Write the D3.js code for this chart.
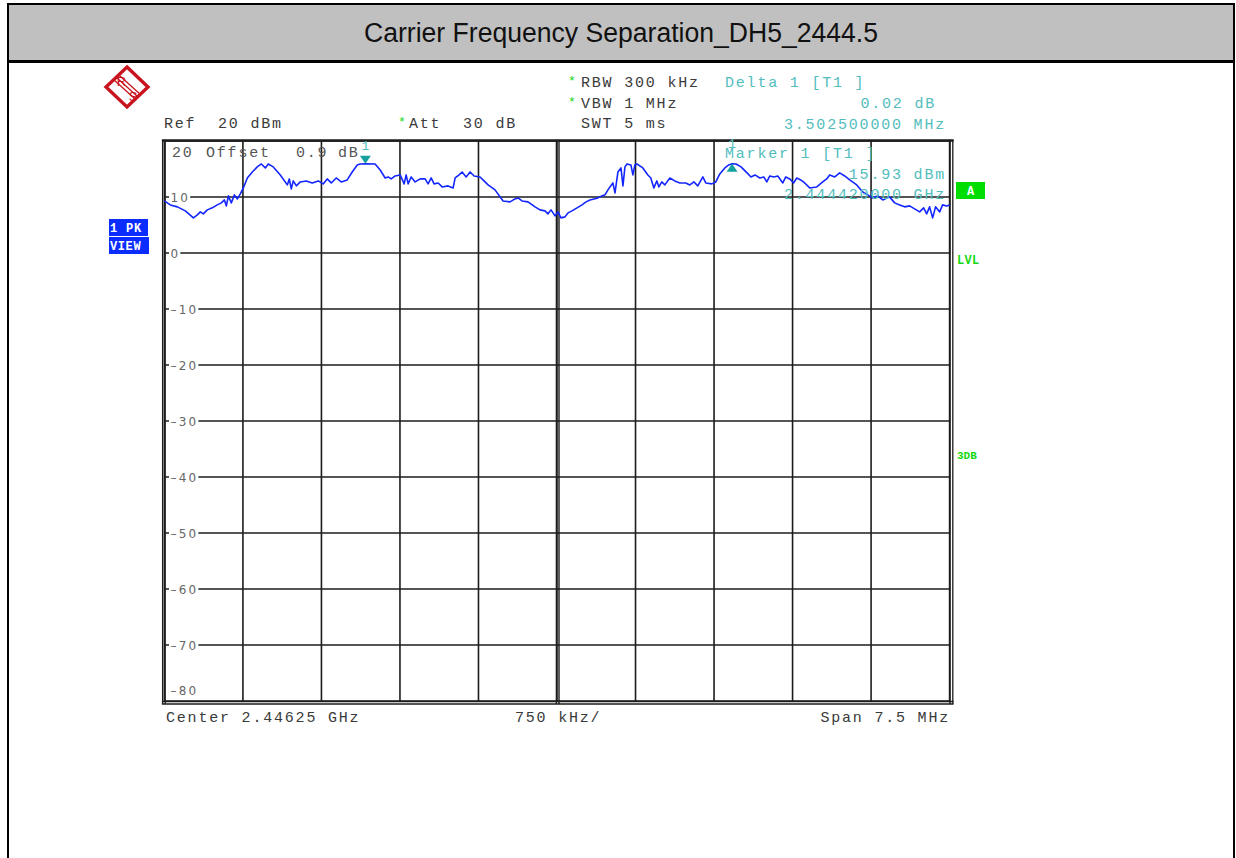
<!DOCTYPE html>
<html>
<head>
<meta charset="utf-8">
<script src="https://cdn.jsdelivr.net/npm/d3@7"></script>
<style>
  body { margin: 0; background: #fff; }
  svg { display: block; }
</style>
</head>
<body>
<svg id="chart" width="1236" height="858"></svg>
<script>
// ---- Sweep settings -------------------------------------------------------
const titleText = "Carrier Frequency Separation_DH5_2444.5";
const centerMHz = 2446.25;
const spanMHz = 7.5;
const refLevelDbm = 20;
const rangeDb = 100;
const divisions = 10;

// ---- Trace 1 (max peak), frequency in MHz and level in dBm ---------------
const freqMHz = [
  2442.500, 2442.557, 2442.624, 2442.700, 2442.777, 2442.815, 2442.843, 2442.872, 2442.910, 2442.958,
  2443.005, 2443.044, 2443.073, 2443.092, 2443.111, 2443.139, 2443.168, 2443.197, 2443.225, 2443.254,
  2443.292, 2443.340, 2443.387, 2443.426, 2443.464, 2443.492, 2443.540, 2443.607, 2443.674, 2443.693,
  2443.712, 2443.731, 2443.760, 2443.798, 2443.855, 2443.912, 2443.970, 2444.017, 2444.055, 2444.094,
  2444.141, 2444.189, 2444.246, 2444.294, 2444.342, 2444.370, 2444.420, 2444.513, 2444.561, 2444.609,
  2444.637, 2444.666, 2444.704, 2444.752, 2444.790, 2444.809, 2444.828, 2444.857, 2444.895, 2444.943,
  2444.990, 2445.019, 2445.048, 2445.076, 2445.115, 2445.153, 2445.210, 2445.258, 2445.277, 2445.315,
  2445.344, 2445.382, 2445.420, 2445.458, 2445.515, 2445.553, 2445.592, 2445.658, 2445.735, 2445.802,
  2445.849, 2445.878, 2445.916, 2445.973, 2446.040, 2446.088, 2446.135, 2446.164, 2446.193, 2446.231,
  2446.259, 2446.288, 2446.326, 2446.355, 2446.393, 2446.441, 2446.489, 2446.527, 2446.565, 2446.603,
  2446.641, 2446.679, 2446.708, 2446.737, 2446.756, 2446.784, 2446.804, 2446.832, 2446.861, 2446.880,
  2446.899, 2446.918, 2446.956, 2446.975, 2446.994, 2447.013, 2447.070, 2447.118, 2447.146, 2447.175,
  2447.204, 2447.223, 2447.251, 2447.280, 2447.328, 2447.375, 2447.423, 2447.480, 2447.519, 2447.557,
  2447.595, 2447.643, 2447.671, 2447.729, 2447.767, 2447.805, 2447.853, 2447.891, 2447.9225, 2447.960,
  2448.008, 2448.065, 2448.103, 2448.141, 2448.187, 2448.225, 2448.254, 2448.283, 2448.321, 2448.359,
  2448.407, 2448.435, 2448.473, 2448.511, 2448.540, 2448.578, 2448.616, 2448.664, 2448.731, 2448.788,
  2448.826, 2448.855, 2448.903, 2448.950, 2448.998, 2449.046, 2449.113, 2449.170, 2449.218, 2449.265,
  2449.313, 2449.361, 2449.427, 2449.475, 2449.523, 2449.571, 2449.618, 2449.666, 2449.714, 2449.752,
  2449.781, 2449.809, 2449.838, 2449.866, 2449.905, 2449.933, 2449.971, 2450.000
];
const levelDbm = [
  9.30, 8.59, 8.24, 7.52, 6.27, 6.81, 7.34, 6.99, 7.70, 8.06,
  8.59, 8.95, 9.48, 8.41, 10.20, 8.95, 10.37, 9.66, 10.55, 11.62,
  13.40, 14.47, 15.37, 15.90, 15.19, 15.90, 15.37, 13.94, 12.16, 13.23,
  11.45, 12.87, 11.98, 12.69, 12.87, 12.51, 12.87, 12.34, 13.23, 12.51,
  13.40, 12.69, 13.05, 14.47, 15.72, 15.90, 15.93, 15.90, 14.83, 13.40,
  13.58, 13.23, 13.76, 13.94, 12.34, 13.94, 12.34, 13.58, 12.69, 13.23,
  13.23, 12.34, 13.40, 12.34, 12.51, 11.80, 11.98, 11.62, 13.40, 13.94,
  14.47, 13.58, 14.47, 13.76, 13.58, 12.87, 12.16, 11.27, 9.30, 9.13,
  9.66, 9.84, 9.30, 9.13, 8.24, 7.70, 7.52, 6.99, 7.70, 6.63,
  7.34, 6.27, 6.45, 7.16, 7.52, 8.06, 8.59, 9.13, 9.48, 9.66,
  9.84, 10.20, 10.37, 11.27, 11.80, 12.51, 10.73, 14.47, 15.19, 11.98,
  15.37, 15.90, 15.72, 13.94, 15.72, 15.90, 15.19, 13.94, 13.40, 11.62,
  12.87, 11.80, 12.69, 12.16, 13.40, 12.87, 12.51, 12.51, 12.16, 12.69,
  11.98, 13.58, 12.51, 12.34, 12.69, 14.12, 15.19, 15.72, 15.95, 15.90,
  15.37, 14.30, 13.58, 13.94, 13.40, 13.58, 12.69, 13.76, 13.58, 13.76,
  12.51, 13.58, 13.23, 12.51, 13.40, 13.05, 12.51, 11.62, 11.80, 12.69,
  13.23, 13.94, 13.58, 14.30, 13.76, 13.05, 12.16, 10.91, 10.37, 9.84,
  10.20, 9.48, 10.02, 8.95, 8.59, 8.24, 8.41, 7.88, 7.34, 8.06,
  6.99, 8.24, 6.27, 8.24, 7.34, 8.59, 8.41, 8.59
];

// ---- Level axis labels -----------------------------------------------------
const levelTicks = [20, 10, 0, -10, -20, -30, -40, -50, -60, -70, -80];

// ---- Markers -----------------------------------------------------------
const marker1 = { freqMHz: 2444.42, levelDbm: 15.93 };
const delta1 = { freqOffsetMHz: 3.5025, levelOffsetDb: 0.02 };

// ---- Settings text ---------------------------------------------------------
const settingsRows = [
  { star: true,  text: "RBW 300 kHz" },
  { star: true,  text: "VBW 1 MHz" },
  { star: false, text: "SWT 5 ms" }
];

// ---------------------------------------------------------------------------
const svg = d3.select("#chart");
const MONO = "'Liberation Mono','Courier New',monospace";
const SANS = "'Liberation Sans',Arial,sans-serif";
const GRID = "#1c1c1c";
const TRACE = "#1426ff";
const CYAN = "#52bdbd";
const TEAL = "#15a0a0";
const GREEN = "#14d814";
const BLUEBOX = "#0b2cff";
const TXT = "#3a3a3a";
const LOGO = "#c8141e";

const plot = { x0: 164.4, x1: 949.6, y0: 141, y1: 701 };
const startMHz = centerMHz - spanMHz / 2;
const stopMHz = centerMHz + spanMHz / 2;

const x = d3.scaleLinear().domain([startMHz, stopMHz]).range([plot.x0, plot.x1]);
const y = d3.scaleLinear().domain([refLevelDbm - rangeDb, refLevelDbm]).range([plot.y1, plot.y0]);

function monoText(px, py, s, opt = {}) {
  return svg.append("text")
    .attr("x", px).attr("y", py)
    .attr("font-family", MONO)
    .attr("font-size", opt.size || 15)
    .attr("letter-spacing", opt.ls !== undefined ? opt.ls : 1.8)
    .attr("font-weight", opt.weight || "normal")
    .attr("fill", opt.fill || TXT)
    .attr("text-anchor", opt.anchor || "start")
    .attr("xml:space", "preserve")
    .text(s);
}

// ---- Page frame and title bar ---------------------------------------------
svg.append("rect").attr("x", 8).attr("y", 4).attr("width", 1226).attr("height", 57)
  .attr("fill", "#c0c0c0");
svg.append("text")
  .attr("x", 621).attr("y", 42)
  .attr("text-anchor", "middle")
  .attr("font-family", SANS).attr("font-size", 27)
  .attr("textLength", 514).attr("lengthAdjust", "spacingAndGlyphs")
  .attr("fill", "#111")
  .text(titleText);
const frame = svg.append("g").attr("stroke", "#000").attr("fill", "none");
frame.append("line").attr("x1", 7).attr("x2", 1235).attr("y1", 4).attr("y2", 4).attr("stroke-width", 2);
frame.append("line").attr("x1", 7).attr("x2", 1235).attr("y1", 61.5).attr("y2", 61.5).attr("stroke-width", 3);
frame.append("line").attr("x1", 8).attr("x2", 8).attr("y1", 3).attr("y2", 858).attr("stroke-width", 2);
frame.append("line").attr("x1", 1234).attr("x2", 1234).attr("y1", 3).attr("y2", 858).attr("stroke-width", 2);

// ---- Manufacturer emblem ---------------------------------------------------
const logo = svg.append("g").attr("transform", "translate(127,87)");
logo.append("path")
  .attr("d", "M0,-20 L21,0 L0,20 L-21,0 Z")
  .attr("fill", "#fff").attr("stroke", LOGO).attr("stroke-width", 3.4)
  .attr("stroke-linejoin", "miter");
[-2.4, 0, 2.4].forEach(o => {
  logo.append("line")
    .attr("x1", -10.5 + o).attr("y1", -9.5 - o).attr("x2", 10.5 + o).attr("y2", 9.5 - o)
    .attr("stroke", LOGO).attr("stroke-width", 1.3);
});
logo.append("text").attr("x", -5.5).attr("y", -1).attr("text-anchor", "middle")
  .attr("font-family", SANS).attr("font-size", 13).attr("fill", LOGO).text("R");
logo.append("text").attr("x", 6).attr("y", 14).attr("text-anchor", "middle")
  .attr("font-family", SANS).attr("font-size", 13).attr("fill", LOGO).text("S");

// ---- Header settings -------------------------------------------------------
monoText(164, 128, "Ref  " + refLevelDbm + " dBm");
monoText(398, 126, "*", { fill: GREEN, size: 13 });
monoText(409, 128, "Att  30 dB");
settingsRows.forEach((r, i) => {
  const by = 87 + i * 20.7;
  if (r.star) monoText(568, by - 2, "*", { fill: GREEN, size: 13 });
  monoText(581, by, r.text);
});
monoText(725, 87, "Delta 1 [T1 ]", { fill: CYAN });
monoText(936, 108, delta1.levelOffsetDb.toFixed(2) + " dB", { fill: CYAN, anchor: "end" });
monoText(946, 128.5, delta1.freqOffsetMHz.toFixed(9) + " MHz", { fill: CYAN, anchor: "end" });

// ---- Grid ------------------------------------------------------------------
const gridX = d3.range(divisions + 1).map(i => startMHz + i * spanMHz / divisions);
const grid = svg.append("g").attr("stroke", GRID).attr("fill", "none");
grid.selectAll("line.v").data(gridX).join("line")
  .attr("x1", d => x(d)).attr("x2", d => x(d))
  .attr("y1", plot.y0).attr("y2", plot.y1)
  .attr("stroke-width", 1.6);
grid.selectAll("line.h").data(levelTicks).join("line")
  .attr("x1", plot.x0).attr("x2", plot.x1)
  .attr("y1", d => y(d)).attr("y2", d => y(d))
  .attr("stroke-width", 1.6);

// plot frame: double lines left, right, centre; heavy top and bottom
const border = svg.append("g").attr("stroke", GRID).attr("fill", "none");
[[plot.x0 - 1.8, 1.3], [plot.x0 + 0.8, 1.3], [plot.x1 + 0.4, 1.5], [plot.x1 + 3.2, 1.3],
 [x(centerMHz) - 0.6, 1.4], [x(centerMHz) + 2.0, 1.4]].forEach(([px, w]) => {
  border.append("line").attr("x1", px).attr("x2", px)
    .attr("y1", plot.y0 - 1.2).attr("y2", plot.y1 + 3).attr("stroke-width", w);
});
border.append("line").attr("x1", plot.x0 - 2.5).attr("x2", plot.x1 + 4)
  .attr("y1", plot.y0 - 0.5).attr("y2", plot.y0 - 0.5).attr("stroke-width", 2.6);
border.append("line").attr("x1", plot.x0 - 2.5).attr("x2", plot.x1 + 4)
  .attr("y1", plot.y1 + 0.5).attr("y2", plot.y1 + 0.5).attr("stroke-width", 1.4);
border.append("line").attr("x1", plot.x0 - 2.5).attr("x2", plot.x1 + 4)
  .attr("y1", plot.y1 + 3).attr("y2", plot.y1 + 3).attr("stroke-width", 1.4);

// ---- Level labels inside the grid -----------------------------------------
const labelG = svg.append("g");
levelTicks.forEach(t => {
  if (t === refLevelDbm) return;
  const isBottom = t === refLevelDbm - rangeDb;
  const ty = isBottom ? y(t) - 6 : y(t) + 4.5;
  const tx = labelG.append("text")
    .attr("x", 170.5).attr("y", ty)
    .attr("font-family", "'DejaVu Sans',sans-serif").attr("font-size", 12)
    .attr("letter-spacing", 2.2)
    .attr("fill", "#666")
    .text(t < 0 ? "\u2013" + Math.abs(t) : String(t));
  if (!isBottom) {
    const bb = tx.node().getBBox();
    labelG.insert("rect", "text")
      .attr("x", 169).attr("y", y(t) - 3)
      .attr("width", bb.width + 1.5).attr("height", 6)
      .attr("fill", "#fff");
  }
});
monoText(172, 157, String(refLevelDbm), { fill: "#555" });
monoText(206, 157, "Offset", { fill: "#555" });
monoText(296, 157, "0.9", { fill: "#555" });
monoText(338, 157, "dB", { fill: "#555" });

// ---- Trace -----------------------------------------------------------------
const traceData = freqMHz.map((f, i) => [f, levelDbm[i]]);
svg.append("path")
  .datum(traceData)
  .attr("fill", "none")
  .attr("stroke", TRACE)
  .attr("stroke-width", 1.6)
  .attr("stroke-linejoin", "round")
  .attr("d", d3.line().x(d => x(d[0])).y(d => y(d[1])));

// ---- Marker readout --------------------------------------------------------
monoText(725, 157.5, "Marker 1 [T1 ]", { fill: CYAN });
monoText(946, 179, marker1.levelDbm.toFixed(2) + " dBm", { fill: CYAN, anchor: "end" });
monoText(946, 198.5, (marker1.freqMHz / 1000).toFixed(9) + " GHz", { fill: CYAN, anchor: "end" });

// ---- Marker symbols --------------------------------------------------------
const m1x = x(marker1.freqMHz), m1y = y(marker1.levelDbm);
svg.append("path")
  .attr("d", `M${m1x},${m1y} L${m1x - 5.5},${m1y - 8} L${m1x + 5.5},${m1y - 8} Z`)
  .attr("fill", TEAL);
monoText(m1x, 150, "1", { fill: CYAN, anchor: "middle", ls: 0, size: 13 });

const d1x = x(marker1.freqMHz + delta1.freqOffsetMHz);
const d1y = y(marker1.levelDbm + delta1.levelOffsetDb);
svg.append("path")
  .attr("d", `M${d1x},${d1y} L${d1x - 5.5},${d1y + 8} L${d1x + 5.5},${d1y + 8} Z`)
  .attr("fill", TEAL);
monoText(d1x, 148, "1", { fill: CYAN, anchor: "middle", ls: 0, size: 13 });

// ---- Side annotations ------------------------------------------------------
svg.append("rect").attr("x", 109).attr("y", 219).attr("width", 39).attr("height", 17).attr("fill", BLUEBOX);
svg.append("rect").attr("x", 109).attr("y", 237).attr("width", 40).attr("height", 17).attr("fill", BLUEBOX);
monoText(110, 232, "1 PK", { fill: "#fff", size: 12, weight: "bold", ls: 0.8 });
monoText(110, 250, "VIEW", { fill: "#fff", size: 12, weight: "bold", ls: 0.6 });

svg.append("rect").attr("x", 956).attr("y", 182).attr("width", 29).attr("height", 17).attr("fill", "#00dd00");
monoText(970.5, 195, "A", { fill: "#fff", size: 12, weight: "bold", anchor: "middle", ls: 0 });
monoText(957, 264, "LVL", { fill: GREEN, size: 12, weight: "bold", ls: 0.3 });
monoText(957, 459, "3DB", { fill: GREEN, size: 11, weight: "bold", ls: 0 });

// ---- Footer ----------------------------------------------------------------
monoText(166, 722, "Center " + (centerMHz / 1000).toFixed(5) + " GHz");
monoText(515, 722, (spanMHz / divisions * 1000) + " kHz/");
monoText(950, 722, "Span " + spanMHz + " MHz", { anchor: "end" });
</script>
</body>
</html>
